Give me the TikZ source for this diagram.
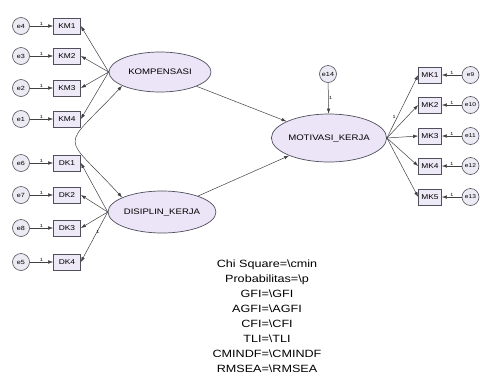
\documentclass[tikz,border=0pt]{standalone}
\usepackage{fontspec}
\setmainfont{Liberation Sans}[FakeStretch=1.2]
\usetikzlibrary{shapes.geometric,arrows.meta}

\definecolor{lavfill}{RGB}{236,228,247}
\definecolor{boxfill}{RGB}{238,233,246}
\definecolor{errfill}{RGB}{236,234,242}
\definecolor{edgegray}{RGB}{80,80,92}

\tikzset{
  latent/.style={ellipse,draw=edgegray,fill=lavfill,line width=0.7pt,inner sep=0pt,
    minimum width=102pt,minimum height=40pt,font=\fontsize{8}{9}\selectfont},
  obsbox/.style={rectangle,draw=edgegray,fill=boxfill,line width=0.7pt,inner sep=0pt,
    minimum width=27pt,minimum height=16pt,font=\fontsize{7}{8}\selectfont},
  errcirc/.style={circle,draw=edgegray,fill=errfill,line width=0.6pt,inner sep=0pt,
    minimum size=17pt,font=\fontsize{6}{7}\selectfont},
  path/.style={draw=black!75,line width=0.5pt,-{Latex[length=5pt,width=3.5pt]}},
  covpath/.style={draw=black!75,line width=0.5pt,{Latex[length=5pt,width=3.5pt]}-{Latex[length=5pt,width=3.5pt]}},
  one/.style={font=\fontsize{4.5}{5}\selectfont,inner sep=0.5pt}
}

\begin{document}
\begin{tikzpicture}[x=1pt,y=-1pt]
    \useasboundingbox (0,0) rectangle (480,381);
    % latent variables
    \node[latent] (komp) at (160,72) {KOMPENSASI};
    \node[latent,minimum width=105pt,minimum height=42pt] (disip) at (162,212) {DISIPLIN\_KERJA};
    \node[latent,minimum width=98pt,minimum height=48pt] (motiv) at (329,138) {MOTIVASI\_KERJA};
    % indicators of KOMPENSASI
    \node[obsbox] (km1) at (67,26) {KM1};
    \node[obsbox] (km2) at (67,56) {KM2};
    \node[obsbox] (km3) at (67,88) {KM3};
    \node[obsbox] (km4) at (67,119) {KM4};
    \node[errcirc] (e4) at (21,26) {e4};
    \node[errcirc] (e3) at (21,56) {e3};
    \node[errcirc] (e2) at (21,88) {e2};
    \node[errcirc] (e1) at (21,119) {e1};
    % indicators of DISIPLIN_KERJA
    \node[obsbox] (dk1) at (67,163) {DK1};
    \node[obsbox] (dk2) at (67,195) {DK2};
    \node[obsbox] (dk3) at (67,228) {DK3};
    \node[obsbox] (dk4) at (67,262) {DK4};
    \node[errcirc] (e6) at (21,163) {e6};
    \node[errcirc] (e7) at (21,195) {e7};
    \node[errcirc] (e8) at (21,228) {e8};
    \node[errcirc] (e5) at (21,262) {e5};
    % indicators of MOTIVASI_KERJA
    \node[obsbox,minimum width=23pt] (mk1) at (430,75) {MK1};
    \node[obsbox,minimum width=23pt] (mk2) at (430,105) {MK2};
    \node[obsbox,minimum width=23pt] (mk3) at (430,136) {MK3};
    \node[obsbox,minimum width=23pt] (mk4) at (430,166) {MK4};
    \node[obsbox,minimum width=23pt] (mk5) at (430,197) {MK5};
    \node[errcirc,font=\fontsize{5.5}{6}\selectfont] (e9) at (470.5,75) {e9};
    \node[errcirc,font=\fontsize{5.5}{6}\selectfont] (e10) at (470.5,105) {e10};
    \node[errcirc,font=\fontsize{5.5}{6}\selectfont] (e11) at (470.5,136) {e11};
    \node[errcirc,font=\fontsize{5.5}{6}\selectfont] (e12) at (470.5,166) {e12};
    \node[errcirc,font=\fontsize{5.5}{6}\selectfont] (e13) at (470.5,197) {e13};
    \node[errcirc] (e14) at (328,74) {e14};

    % loadings
    \draw[path] (komp.west) -- (km1.east);
    \draw[path] (komp.west) -- (km2.east);
    \draw[path] (komp.west) -- (km3.east);
    \draw[path] (komp.west) -- (km4.east);
    \draw[path] (disip.west) -- (dk1.east);
    \draw[path] (disip.west) -- (dk2.east);
    \draw[path] (disip.west) -- (dk3.east);
    \draw[path] (disip.west) -- node[one,pos=0.45,above right] {1} (dk4.east);
    \draw[path] (motiv.east) -- node[one,pos=0.3,above left] {1} (mk1.west);
    \draw[path] (motiv.east) -- (mk2.west);
    \draw[path] (motiv.east) -- (mk3.west);
    \draw[path] (motiv.east) -- (mk4.west);
    \draw[path] (motiv.east) -- (mk5.west);
    % structural paths
    \draw[path] (komp) -- (motiv);
    \draw[path] (disip) -- (motiv);
    \draw[path] (e14) -- node[one,right] {1} (motiv);
    % covariance
    \draw[covpath] (komp.200) .. controls (60,152) and (61,131) .. (disip.160);

    % error terms
    \draw[path] (e4) -- node[one,above] {1} (km1);
    \draw[path] (e3) -- node[one,above] {1} (km2);
    \draw[path] (e2) -- node[one,above] {1} (km3);
    \draw[path] (e1) -- node[one,above] {1} (km4);
    \draw[path] (e6) -- node[one,above] {1} (dk1);
    \draw[path] (e7) -- node[one,above] {1} (dk2);
    \draw[path] (e8) -- node[one,above] {1} (dk3);
    \draw[path] (e5) -- node[one,above] {1} (dk4);
    \draw[path] (e9) -- node[one,above] {1} (mk1);
    \draw[path] (e10) -- node[one,above] {1} (mk2);
    \draw[path] (e11) -- node[one,above] {1} (mk3);
    \draw[path] (e12) -- node[one,above] {1} (mk4);
    \draw[path] (e13) -- node[one,above] {1} (mk5);

    % fit statistics
    \node[align=center,font=\fontsize{10.5}{15}\selectfont,inner sep=0pt] (fit) at (267,316) {%
      Chi Square=\textbackslash cmin\\
      Probabilitas=\textbackslash p\\
      GFI=\textbackslash GFI\\
      AGFI=\textbackslash AGFI\\
      CFI=\textbackslash CFI\\
      TLI=\textbackslash TLI\\
      CMINDF=\textbackslash CMINDF\\
      RMSEA=\textbackslash RMSEA};
\end{tikzpicture}
\end{document}
